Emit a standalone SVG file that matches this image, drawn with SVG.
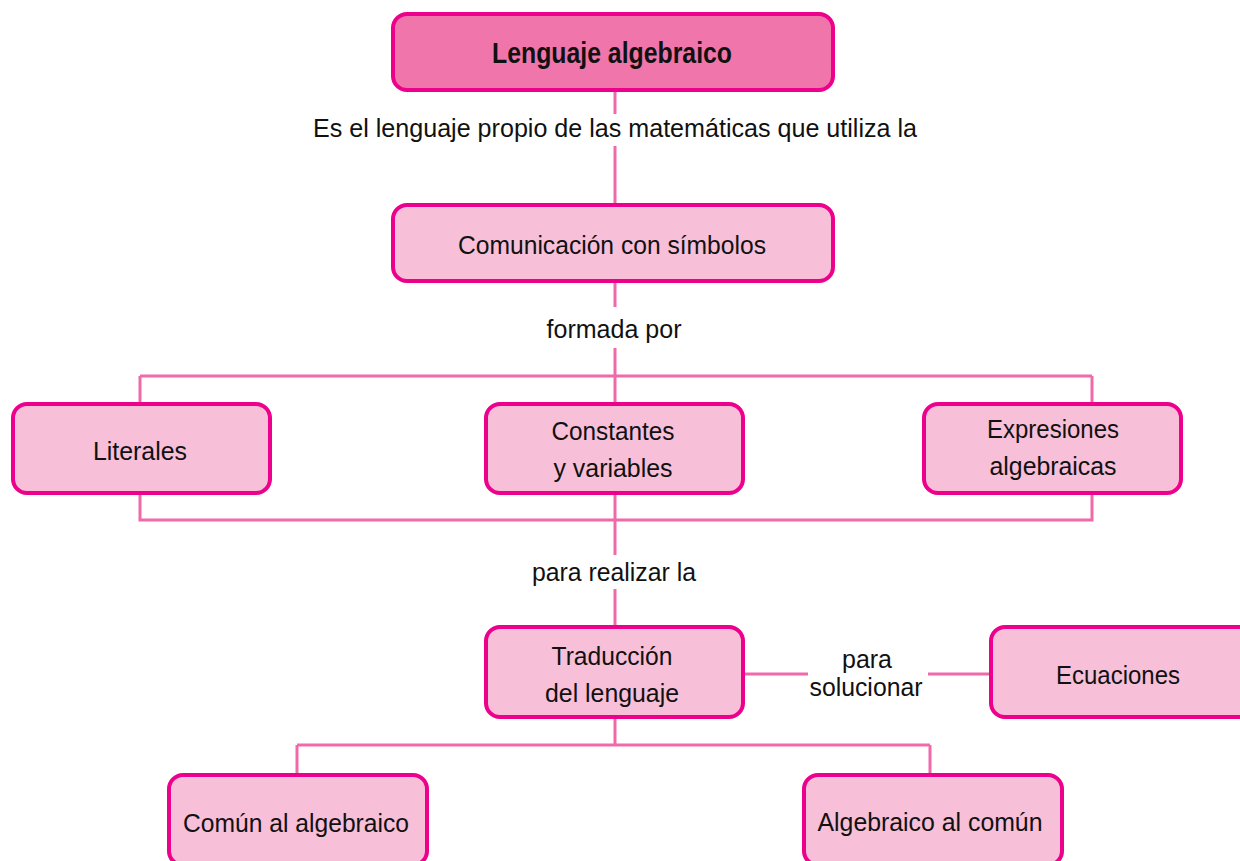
<svg xmlns="http://www.w3.org/2000/svg" width="1240" height="861" viewBox="0 0 1240 861">
<style>
.box{fill:#F7BFD8;stroke:#EC008C;stroke-width:4}
.top{fill:#F075AA;stroke:#EC008C;stroke-width:4}
.t{font-family:"Liberation Sans",Arial,sans-serif;font-size:26.5px;fill:#111;text-anchor:middle}
.b{font-weight:bold;font-size:29px}
.c{fill:none;stroke:#F06AAA;stroke-width:3}
</style>
<rect width="1240" height="861" fill="#fff"/>
<g id="connectors" class="c">
<path d="M615 90V114M615 146V205"/>
<path d="M615 281V307M615 348V376"/>
<path d="M140 376H1092M140 376V404M1092 376V404M615 376V404"/>
<path d="M140 493V520H1092V493M615 493V555M615 589V627"/>
<path d="M744 674H808M928 674H992"/>
<path d="M615 717V745M297 745H930M297 745V775M930 745V775"/>
</g>
<g id="labels">
<text class="t" x="615" y="137" textLength="604" lengthAdjust="spacingAndGlyphs">Es el lenguaje propio de las matemáticas que utiliza la</text>
<text class="t" x="614" y="338" textLength="135" lengthAdjust="spacingAndGlyphs">formada por</text>
<text class="t" x="614" y="581" textLength="164" lengthAdjust="spacingAndGlyphs">para realizar la</text>
<text class="t" x="867" y="668" textLength="50" lengthAdjust="spacingAndGlyphs">para</text>
<text class="t" x="866" y="696" textLength="113" lengthAdjust="spacingAndGlyphs">solucionar</text>
</g>
<g id="n-lenguaje">
<rect class="top" x="393" y="14" width="440" height="76" rx="14"/>
<text class="t b" x="612" y="63" textLength="240" lengthAdjust="spacingAndGlyphs">Lenguaje algebraico</text>
</g>
<g id="n-comunicacion">
<rect class="box" x="393" y="205" width="440" height="76" rx="14"/>
<text class="t" x="612" y="254" textLength="308" lengthAdjust="spacingAndGlyphs">Comunicación con símbolos</text>
</g>
<g id="n-literales">
<rect class="box" x="13" y="404" width="257" height="89" rx="14"/>
<text class="t" x="140" y="460" textLength="94" lengthAdjust="spacingAndGlyphs">Literales</text>
</g>
<g id="n-constantes">
<rect class="box" x="486" y="404" width="257" height="89" rx="14"/>
<text class="t" x="613" y="440" textLength="123" lengthAdjust="spacingAndGlyphs">Constantes</text>
<text class="t" x="613" y="477" textLength="119" lengthAdjust="spacingAndGlyphs">y variables</text>
</g>
<g id="n-expresiones">
<rect class="box" x="924" y="404" width="257" height="89" rx="14"/>
<text class="t" x="1053" y="438" textLength="132" lengthAdjust="spacingAndGlyphs">Expresiones</text>
<text class="t" x="1053" y="475" textLength="127" lengthAdjust="spacingAndGlyphs">algebraicas</text>
</g>
<g id="n-traduccion">
<rect class="box" x="486" y="627" width="257" height="90" rx="14"/>
<text class="t" x="612" y="665" textLength="121" lengthAdjust="spacingAndGlyphs">Traducción</text>
<text class="t" x="612" y="702" textLength="134" lengthAdjust="spacingAndGlyphs">del lenguaje</text>
</g>
<g id="n-ecuaciones">
<rect class="box" x="991" y="627" width="262" height="90" rx="14"/>
<text class="t" x="1118" y="684" textLength="124" lengthAdjust="spacingAndGlyphs">Ecuaciones</text>
</g>
<g id="n-comun">
<rect class="box" x="169" y="775" width="258" height="90" rx="14"/>
<text class="t" x="296" y="832" textLength="226" lengthAdjust="spacingAndGlyphs">Común al algebraico</text>
</g>
<g id="n-algebraico">
<rect class="box" x="804" y="775" width="258" height="90" rx="14"/>
<text class="t" x="930" y="831" textLength="225" lengthAdjust="spacingAndGlyphs">Algebraico al común</text>
</g>
</svg>
